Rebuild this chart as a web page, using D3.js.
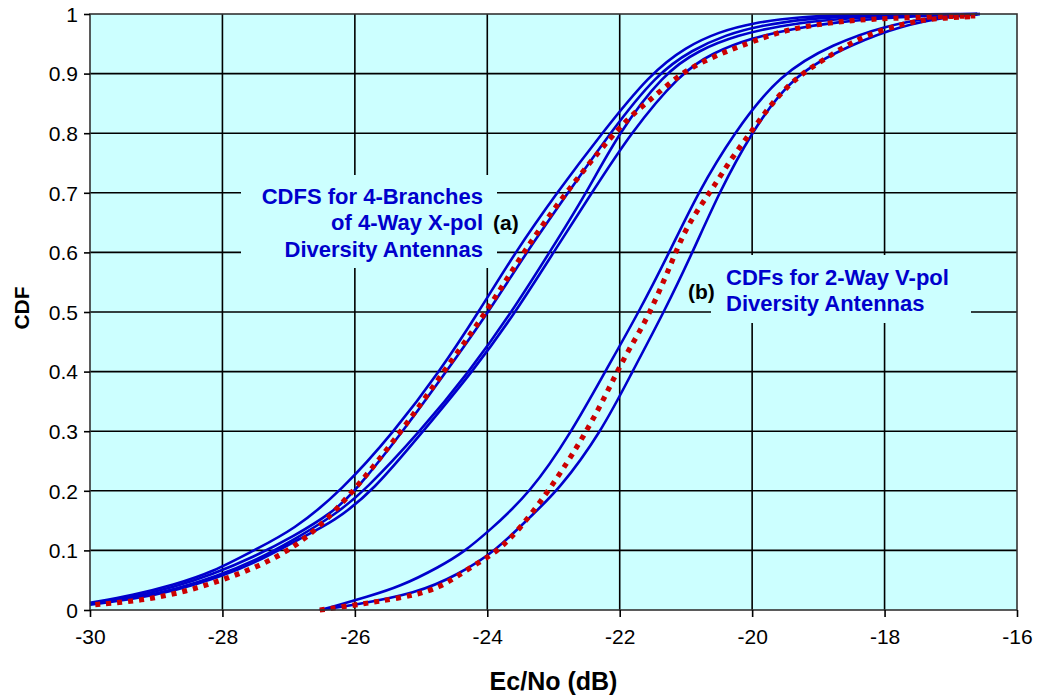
<!DOCTYPE html>
<html>
<head>
<meta charset="utf-8">
<script src="https://cdn.jsdelivr.net/npm/d3@7"></script>
<style>
  html, body { margin: 0; padding: 0; background: #ffffff; }
  svg { display: block; }
  text { font-family: "Liberation Sans", Arial, sans-serif; }
</style>
</head>
<body>
<svg id="chart" width="1050" height="696"></svg>
<script>
// ---------- data ----------
const xTicks = [-30, -28, -26, -24, -22, -20, -18, -16];
const yTicks = [0, 0.1, 0.2, 0.3, 0.4, 0.5, 0.6, 0.7, 0.8, 0.9, 1];
const xTickLabels = ["-30", "-28", "-26", "-24", "-22", "-20", "-18", "-16"];
const yTickLabels = ["0", "0.1", "0.2", "0.3", "0.4", "0.5", "0.6", "0.7", "0.8", "0.9", "1"];

// (a) 4-branch X-pol, four blue branch CDFs  [Ec/No dB, CDF]
const xpolBranch1 = [[-30, 0.012], [-29.35, 0.025], [-28.74, 0.042], [-28.14, 0.064], [-27.53, 0.10], [-26.93, 0.134], [-26.2, 0.2], [-25.4, 0.3], [-24.72, 0.4], [-24.13, 0.5], [-23.58, 0.6], [-22.95, 0.7], [-22.27, 0.8], [-21.54, 0.9], [-21.0, 0.945], [-20.5, 0.97], [-20.0, 0.985], [-19.3, 0.995], [-18.5, 0.999], [-16.6, 1.0]];
const xpolBranch2 = [[-30, 0.010], [-29.35, 0.022], [-28.74, 0.038], [-28.14, 0.060], [-27.53, 0.089], [-26.93, 0.123], [-26.32, 0.165], [-25.99, 0.2], [-25.27, 0.3], [-24.62, 0.4], [-23.98, 0.5], [-23.41, 0.6], [-22.78, 0.7], [-22.15, 0.8], [-21.44, 0.9], [-20.9, 0.94], [-20.4, 0.965], [-19.9, 0.98], [-19.2, 0.992], [-18.3, 0.998], [-16.6, 1.0]];
const xpolBranch3 = [[-30, 0.010], [-29.3, 0.020], [-28.7, 0.035], [-28.1, 0.056], [-27.5, 0.083], [-26.9, 0.119], [-26.3, 0.16], [-25.85, 0.2], [-25.01, 0.3], [-24.27, 0.4], [-23.63, 0.5], [-23.06, 0.6], [-22.5, 0.7], [-22.02, 0.8], [-21.34, 0.9], [-20.8, 0.94], [-20.2, 0.965], [-19.6, 0.98], [-18.9, 0.99], [-18.0, 0.997], [-16.6, 1.0]];
const xpolBranch4 = [[-30, 0.009], [-29.3, 0.019], [-28.7, 0.033], [-28.1, 0.053], [-27.5, 0.079], [-26.83, 0.12], [-26.32, 0.148], [-25.72, 0.2], [-24.97, 0.3], [-24.22, 0.4], [-23.57, 0.5], [-23.0, 0.6], [-22.42, 0.7], [-21.84, 0.8], [-21.09, 0.9], [-20.6, 0.935], [-20.0, 0.96], [-19.4, 0.975], [-18.7, 0.987], [-17.8, 0.995], [-16.6, 1.0]];
// (a) red dotted
const xpolDotted = [[-29.92, 0.009], [-29.22, 0.0157], [-28.55, 0.031], [-27.92, 0.053], [-27.29, 0.081], [-26.73, 0.119], [-26.12, 0.185], [-25.29, 0.3], [-24.66, 0.4], [-24.01, 0.5], [-23.46, 0.6], [-22.82, 0.7], [-22.09, 0.8], [-21.79, 0.833], [-21.49, 0.861], [-21.19, 0.889], [-20.94, 0.909], [-20.63, 0.926], [-20.33, 0.94], [-20.03, 0.952], [-19.53, 0.973], [-18.77, 0.987], [-18.02, 0.993], [-16.63, 0.997]];

// (b) 2-way V-pol, two blue branch CDFs
const vpolBranch1 = [[-26.53, 0.0], [-26.32, 0.006], [-25.82, 0.022], [-25.32, 0.039], [-24.71, 0.073], [-24.36, 0.097], [-24.01, 0.129], [-23.35, 0.196], [-22.72, 0.3], [-22.22, 0.4], [-21.71, 0.5], [-21.25, 0.6], [-20.82, 0.7], [-20.28, 0.8], [-19.58, 0.9], [-18.77, 0.95], [-18.0, 0.98], [-17.26, 0.995], [-16.56, 1.0]];
const vpolBranch2 = [[-26.53, 0.0], [-26.02, 0.008], [-25.07, 0.028], [-24.46, 0.058], [-23.86, 0.1], [-23.35, 0.157], [-22.93, 0.2], [-22.27, 0.3], [-21.81, 0.4], [-21.33, 0.5], [-20.9, 0.6], [-20.5, 0.7], [-20.02, 0.8], [-19.38, 0.9], [-18.47, 0.95], [-17.76, 0.98], [-17.0, 0.996], [-16.56, 1.0]];
// (b) red dotted
const vpolDotted = [[-26.53, 0.0], [-26.02, 0.008], [-25.67, 0.014], [-25.07, 0.025], [-24.71, 0.039], [-24.46, 0.056], [-24.16, 0.078], [-23.86, 0.097], [-23.50, 0.137], [-23.10, 0.196], [-22.80, 0.246], [-22.55, 0.291], [-22.30, 0.341], [-22.10, 0.386], [-21.87, 0.436], [-21.59, 0.487], [-21.24, 0.576], [-21.04, 0.632], [-20.79, 0.677], [-20.58, 0.710], [-20.33, 0.755], [-20.03, 0.80], [-19.78, 0.839], [-19.48, 0.878], [-19.17, 0.906], [-18.77, 0.934], [-18.47, 0.954], [-18.12, 0.970], [-17.76, 0.982], [-17.46, 0.989], [-17.16, 0.993], [-16.81, 0.995], [-16.66, 0.996]];

const blueSeries = [xpolBranch1, xpolBranch2, xpolBranch3, xpolBranch4, vpolBranch1, vpolBranch2];
const redSeries = [xpolDotted, vpolDotted];

const annotationA = ["CDFS for 4-Branches", "of 4-Way X-pol", "Diversity Antennas"];
const annotationB = ["CDFs for 2-Way V-pol", "Diversity Antennas"];

// ---------- layout ----------
(function () {
const svg = d3.select("#chart");
const pLeft = 90, pRight = 1017, pTop = 14, pBottom = 610;

const x = d3.scaleLinear().domain([-30, -16]).range([pLeft, pRight]);
const y = d3.scaleLinear().domain([0, 1]).range([pBottom, pTop]);

// plot background
svg.append("rect").attr("x", pLeft).attr("y", pTop)
  .attr("width", pRight - pLeft).attr("height", pBottom - pTop)
  .attr("fill", "#ccffff");

// gridlines
const grid = svg.append("g");
grid.selectAll("line.h").data(yTicks.slice(1, -1)).join("line").attr("class", "h")
  .attr("x1", pLeft).attr("x2", pRight)
  .attr("y1", d => y(d)).attr("y2", d => y(d))
  .attr("stroke", "#000").attr("stroke-width", 1.6);
grid.selectAll("line.v").data(xTicks.slice(1, -1)).join("line").attr("class", "v")
  .attr("y1", pTop).attr("y2", pBottom)
  .attr("x1", d => x(d)).attr("x2", d => x(d))
  .attr("stroke", "#000").attr("stroke-width", 1.6);

// annotation boxes (same fill as plot, hide grid)
svg.append("rect").attr("x", 241).attr("y", 175).attr("width", 256).attr("height", 93).attr("fill", "#ccffff");
svg.append("rect").attr("x", 711).attr("y", 255).attr("width", 260).attr("height", 68).attr("fill", "#ccffff");

const tA = svg.append("g").attr("font-size", 22).attr("font-weight", "bold").attr("fill", "#0000cc").attr("text-anchor", "end");
annotationA.forEach((s, i) => tA.append("text").attr("x", 483).attr("y", 204 + i * 26.3).text(s));
const tB = svg.append("g").attr("font-size", 22).attr("font-weight", "bold").attr("fill", "#0000cc");
annotationB.forEach((s, i) => tB.append("text").attr("x", 726).attr("y", 285 + i * 25.7).text(s));

svg.append("text").attr("x", 493).attr("y", 230).attr("font-size", 21).attr("font-weight", "bold").attr("fill", "#000").text("(a)");
svg.append("text").attr("x", 688).attr("y", 299).attr("font-size", 21).attr("font-weight", "bold").attr("fill", "#000").text("(b)");

// curves
const line = d3.line().x(d => x(d[0])).y(d => y(d[1])).curve(d3.curveBasis);
svg.append("g").selectAll("path").data(blueSeries).join("path")
  .attr("d", line).attr("fill", "none")
  .attr("stroke", "#0000cc").attr("stroke-width", 2.6);
svg.append("g").selectAll("path").data(redSeries).join("path")
  .attr("d", line).attr("fill", "none")
  .attr("stroke", "#cc0000").attr("stroke-width", 5.2)
  .attr("stroke-dasharray", "5,6");

// frame
svg.append("rect").attr("x", pLeft).attr("y", pTop)
  .attr("width", pRight - pLeft).attr("height", pBottom - pTop)
  .attr("fill", "none").attr("stroke", "#333").attr("stroke-width", 1.6);

// axes
const yAxis = d3.axisLeft(y).tickValues(yTicks).tickSize(6).tickPadding(6)
  .tickFormat((d, i) => yTickLabels[i]);
const gy = svg.append("g").attr("transform", `translate(${pLeft},0)`).call(yAxis);
const xAxis = d3.axisBottom(x).tickValues(xTicks).tickSize(7).tickPadding(12)
  .tickFormat((d, i) => xTickLabels[i]);
const gx = svg.append("g").attr("transform", `translate(0,${pBottom})`).call(xAxis);
[gx, gy].forEach(g => {
  g.select(".domain").remove();
  g.selectAll(".tick line").attr("stroke", "#000").attr("stroke-width", 1.6);
  g.selectAll(".tick text").attr("font-size", 21).attr("fill", "#000")
    .attr("font-family", '"Liberation Sans", Arial, sans-serif');
});
gy.selectAll(".tick text").attr("dy", "0.35em");

// axis titles
svg.append("text").attr("x", (pLeft + pRight) / 2).attr("y", 690)
  .attr("text-anchor", "middle").attr("font-size", 25).attr("font-weight", "bold")
  .text("Ec/No (dB)");
svg.append("text").attr("transform", "translate(29,308) rotate(-90)")
  .attr("text-anchor", "middle").attr("font-size", 21).attr("font-weight", "bold")
  .text("CDF");
})();
</script>
</body>
</html>
